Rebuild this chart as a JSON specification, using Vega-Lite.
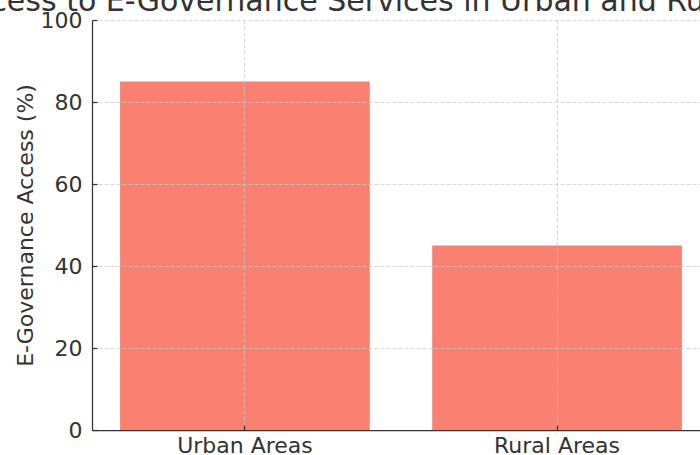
{
  "$schema": "https://vega.github.io/schema/vega-lite/v6.json",
  "autosize": "none",
  "width": 608,
  "height": 410,
  "padding": {"left": 92, "top": 20, "right": 0, "bottom": 25},
  "background": "white",
  "title": {
    "text": "Access to E-Governance Services in Urban and Rural Areas",
    "font": "DejaVu Sans",
    "fontSize": 30,
    "fontWeight": "normal",
    "color": "#333333",
    "anchor": "middle",
    "frame": "group",
    "baseline": "alphabetic",
    "offset": -32,
    "dx": 0
  },
  "data": {
    "values": [
      {"area": "Urban Areas", "access": 85},
      {"area": "Rural Areas", "access": 45}
    ]
  },
  "mark": {"type": "bar", "color": "#FA8072"},
  "encoding": {
    "x": {
      "field": "area",
      "type": "nominal",
      "sort": null,
      "scale": {"paddingInner": 0.2, "paddingOuter": 0.09, "range": [0, 618]},
      "axis": {
        "title": null,
        "labelAngle": 0,
        "grid": true,
        "bandPosition": 0.5,
        "zindex": 1,
        "tickSize": -5,
        "labelPadding": 10
      }
    },
    "y": {
      "field": "access",
      "type": "quantitative",
      "scale": {"domain": [0, 100], "nice": false},
      "axis": {
        "title": "E-Governance Access (%)",
        "values": [0, 20, 40, 60, 80, 100],
        "grid": true,
        "zindex": 1,
        "tickSize": -5,
        "labelPadding": 15,
        "titleAngle": 270,
        "titleBaseline": "alphabetic",
        "titleAlign": "center",
        "titleX": -60,
        "titleY": 205
      }
    }
  },
  "config": {
    "view": {"stroke": null},
    "axis": {
      "labelFont": "DejaVu Sans",
      "labelFontSize": 22,
      "labelColor": "#333333",
      "titleFont": "DejaVu Sans",
      "titleFontSize": 22,
      "titleFontWeight": "normal",
      "titleColor": "#333333",
      "domainColor": "#333333",
      "domainWidth": 1.25,
      "tickColor": "#333333",
      "tickWidth": 1.25,
      "gridColor": "#c8c8c8",
      "gridWidth": 0.8,
      "gridDash": [4, 2],
      "gridOpacity": 0.9
    }
  }
}
